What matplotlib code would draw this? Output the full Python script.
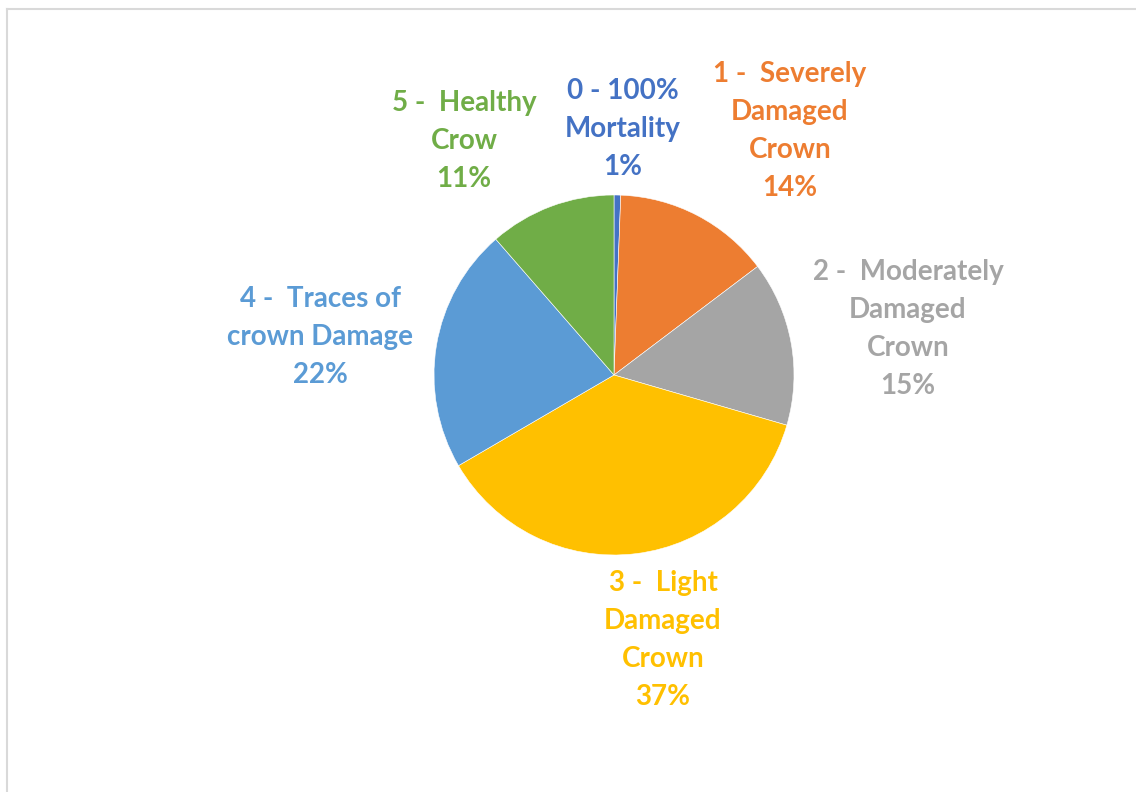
import matplotlib.pyplot as plt
from matplotlib.lines import Line2D

# classes of crown damage, clockwise from the top
categories = ['0 - 100%\nMortality', '1 -  Severely\nDamaged\nCrown',
              '2 -  Moderately\nDamaged\nCrown', '3 -  Light\nDamaged\nCrown',
              '4 -  Traces of\ncrown Damage', '5 -  Healthy\nCrow']
shares = [0.6, 14.1, 14.8, 37.1, 22.0, 11.4]
colors = ['#4472C4', '#ED7D31', '#A5A5A5', '#FFC000', '#5B9BD5', '#70AD47']

# label centres in pixels (x, y from top)
label_pos = [(623, 129), (790, 131), (908, 329), (663, 640), (320, 337), (464, 141)]

W, H = 1136, 792
fig = plt.figure(figsize=(W / 100, H / 100), dpi=100)
ax = fig.add_axes([0, 0, 1, 1])

ax.pie(shares, colors=colors, startangle=90, counterclock=False,
       center=(614, H - 375), radius=180, frame=True,
       wedgeprops=dict(edgecolor='white', linewidth=0.4))
ax.set_xlim(0, W)
ax.set_ylim(0, H)
ax.set_aspect('equal')
ax.axis('off')

total = sum(shares)
for cat, val, col, (px, py) in zip(categories, shares, colors, label_pos):
    txt = f"{cat}\n{round(val / total * 100):.0f}%"
    ax.text(px, H - py, txt, color=col, ha='center', va='center',
            fontsize=20, fontweight='bold', family='Lato', linespacing=1.56)

# light frame of the chart area
fig.add_artist(Line2D([7 / W, 1], [1 - 9 / H, 1 - 9 / H], color='#d9d9d9', lw=1.5))
fig.add_artist(Line2D([7 / W, 7 / W], [0, 1 - 9 / H], color='#d9d9d9', lw=1.5))

fig.savefig('out.png', dpi=100, facecolor='white')
